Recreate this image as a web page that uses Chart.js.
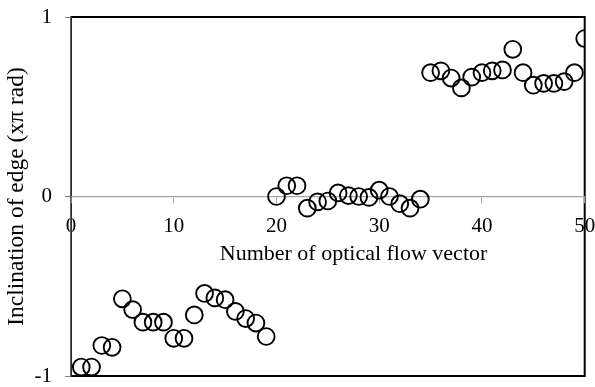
<!DOCTYPE html>
<html>
<head>
<meta charset="utf-8">
<script src="https://cdn.jsdelivr.net/npm/chart.js@4"></script>
<style>
  html, body { margin: 0; padding: 0; background: #fff; }
  #wrap { width: 595px; height: 387px; }
</style>
</head>
<body>
<div id="wrap"><canvas id="flowChart"></canvas></div>
<script>
// vector index and edge inclination (x pi rad)
const vectorNumbers = [1, 2, 3, 4, 5, 6, 7, 8, 9, 10, 11, 12, 13, 14, 15, 16, 17, 18, 19, 20,
    21, 22, 23, 24, 25, 26, 27, 28, 29, 30, 31, 32, 33, 34, 35, 36, 37, 38, 39, 40,
    41, 42, 43, 44, 45, 46, 47, 48, 49, 50];
const inclination = [-0.95, -0.95, -0.83, -0.84, -0.57, -0.63, -0.70, -0.70, -0.70, -0.79,
    -0.79, -0.66, -0.54, -0.565, -0.575, -0.64, -0.68, -0.705, -0.78, 0.0,
    0.06, 0.06, -0.065, -0.03, -0.025, 0.02, 0.005, 0.0, -0.005, 0.035,
    0.0, -0.04, -0.065, -0.015, 0.69, 0.70, 0.66, 0.605, 0.665, 0.69,
    0.70, 0.705, 0.82, 0.69, 0.62, 0.63, 0.63, 0.64, 0.69, 0.88];
const xTicks = [0, 10, 20, 30, 40, 50];
const yTicks = [-1, 0, 1];
const xTitle = 'Number of optical flow vector';
const yTitle = 'Inclination of edge (x\u03c0 rad)';

const serif = "'Liberation Serif', 'Times New Roman', serif";

// black frame round the plot area, drawn before the axes
const frame = {
    id: 'frame',
    beforeDraw(chart) {
        const a = chart.chartArea;
        const ctx = chart.ctx;
        ctx.save();
        ctx.strokeStyle = '#000';
        ctx.lineWidth = 2;
        ctx.strokeRect(a.left, a.top, a.right - a.left, a.bottom - a.top);
        ctx.restore();
    },
    afterDraw(chart) {
        // x title sits under the tick labels, a bit right of centre
        const a = chart.chartArea;
        const zero = chart.scales.y.getPixelForValue(0);
        const ctx = chart.ctx;
        ctx.save();
        ctx.fillStyle = '#000';
        ctx.font = '22px ' + serif;
        ctx.textAlign = 'center';
        ctx.textBaseline = 'middle';
        ctx.fillText(xTitle, a.left + (a.right - a.left) * 0.55, zero + 58);
        ctx.restore();
    }
};

const ctx = document.getElementById('flowChart').getContext('2d');
new Chart(ctx, {
    type: 'scatter',
    data: {
        datasets: [{
            data: vectorNumbers.map((n, i) => ({ x: n, y: inclination[i] })),
            pointRadius: 8.4,
            pointHoverRadius: 8.4,
            pointBorderWidth: 1.9,
            borderColor: '#000',
            backgroundColor: 'rgba(0,0,0,0)'
        }]
    },
    options: {
        responsive: true,
        maintainAspectRatio: false,
        animation: false,
        layout: { padding: { top: 17, right: 9, bottom: 11, left: 0 } },
        plugins: { legend: { display: false }, tooltip: { enabled: false } },
        scales: {
            x: {
                type: 'linear',
                position: { y: 0 },
                min: 0,
                max: 50,
                afterBuildTicks: s => { s.ticks = xTicks.map(v => ({ value: v })); },
                afterFit: s => { s.paddingLeft = 0; s.paddingRight = 0; },
                grid: { drawOnChartArea: false, tickLength: 6, color: '#a6a6a6' },
                border: { color: '#a6a6a6', width: 1.3 },
                ticks: { color: '#000', font: { family: serif, size: 21 }, padding: 11, maxRotation: 0 }
            },
            y: {
                type: 'linear',
                position: 'left',
                min: -1,
                max: 1,
                afterBuildTicks: s => { s.ticks = yTicks.map(v => ({ value: v })); },
                afterFit: s => { s.width = 71; s.paddingTop = 0; s.paddingBottom = 0; },
                grid: { drawOnChartArea: false, tickLength: 6, color: '#808080' },
                border: { color: '#5a5a5a', width: 1.5 },
                ticks: { color: '#000', font: { family: serif, size: 21 }, padding: 13 },
                title: {
                    display: true,
                    text: yTitle,
                    color: '#000',
                    font: { family: serif, size: 23.5 },
                    padding: { top: 3, bottom: 0 }
                }
            }
        }
    },
    plugins: [frame]
});
</script>
</body>
</html>
